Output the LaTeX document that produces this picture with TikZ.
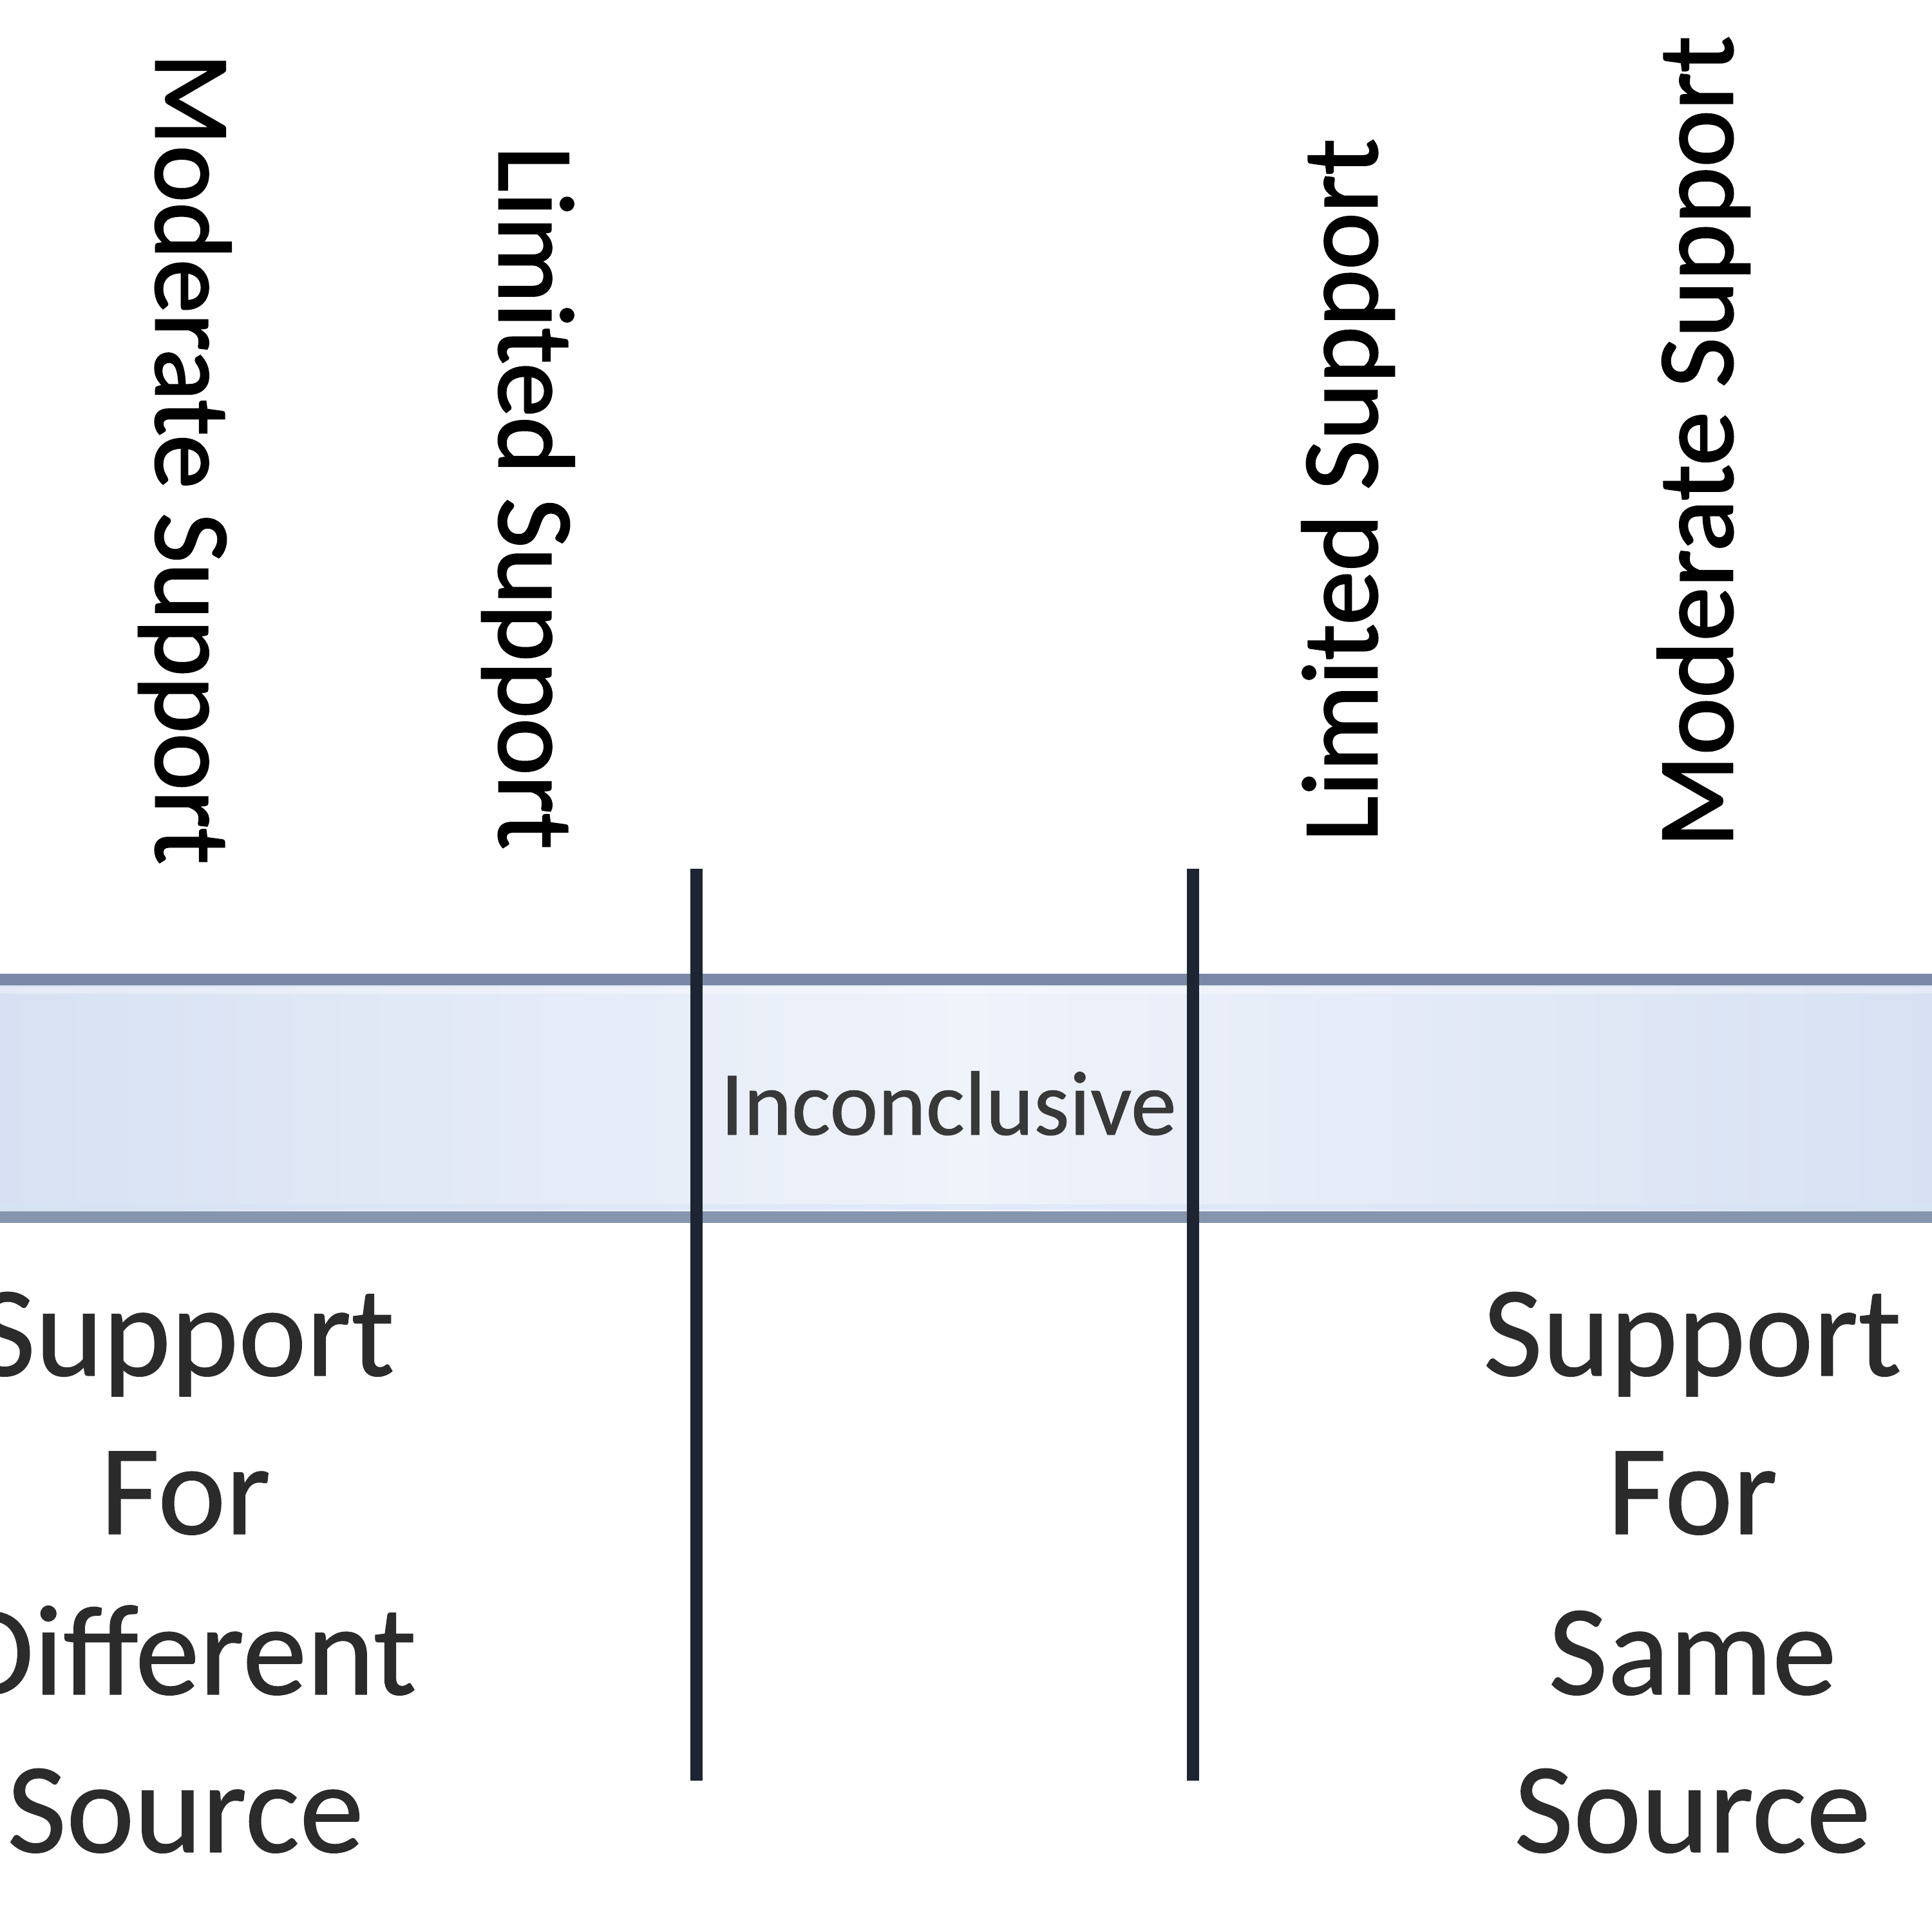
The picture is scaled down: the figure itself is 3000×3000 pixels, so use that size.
\documentclass[tikz,border=0pt]{standalone}
\usepackage{fontspec}
\setmainfont{Carlito}
\newfontfamily\vfont[FakeBold=1.6]{Carlito}
\newfontfamily\bfontx[FakeBold=0.6]{Carlito}
\definecolor{bandblue}{HTML}{BFCFEC}
\definecolor{bandwhite}{HTML}{EFF3FA}
\definecolor{bandedge}{HTML}{7B88A5}
\definecolor{bandedgeb}{HTML}{8595AE}
\definecolor{linecol}{HTML}{1C2531}
\definecolor{graytext}{HTML}{2B2B2B}
\definecolor{inctext}{HTML}{383838}
\pgfdeclarehorizontalshading{bandshade}{100bp}{color(0bp)=(bandblue); color(50bp)=(bandwhite); color(100bp)=(bandblue)}
\begin{document}
\begin{tikzpicture}[x=0.01cm,y=-0.01cm,
  vtxt/.style={inner sep=0pt,outer sep=0pt,text=black,font=\vfont\fontsize{47.8pt}{57pt}\selectfont},
  btxt/.style={inner sep=0pt,outer sep=0pt,text=graytext,anchor=base,font=\bfontx\fontsize{56.9pt}{70pt}\selectfont},
  vline/.style={draw=linecol,line width=5.4pt},
  bandborder/.style={line width=5.3pt}
]
\useasboundingbox (0,0) rectangle (3000,3000);
\fill[white] (0,0) rectangle (3000,3000);
\clip (0,0) rectangle (3000,3000);
% band
\path[shading=bandshade] (-10,1521) rectangle (3010,1890);
\draw[white,opacity=0.35,line width=3pt] (-10,1538) -- (3010,1538);
\draw[color={rgb,255:red,214;green,228;blue,247},opacity=0.6,line width=2.5pt] (-10,1874) -- (3010,1874);
\draw[bandborder,bandedge] (-10,1521) -- (3010,1521);
\draw[bandborder,bandedgeb] (-10,1890) -- (3010,1890);
% vertical lines
\coordinate (v1t) at (1081,1349);
\coordinate (v1b) at (1081,2765);
\coordinate (v2t) at (1852,1349);
\coordinate (v2b) at (1852,2765);
\draw[vline] (v1t) -- (v1b);
\draw[vline] (v2t) -- (v2b);
% rotated labels
\node[vtxt,rotate=-90,anchor=base west] (lmod) at (242,82) {Moderate Support};
\node[vtxt,rotate=-90,anchor=base west] (llim) at (775,227) {Limited Support};
\node[vtxt,rotate=90,anchor=base west] (rlim) at (2138,1307) {Limited Support};
\node[vtxt,rotate=90,anchor=base west] (rmod) at (2690,1316) {Moderate Support};
% inconclusive
\node[inner sep=0pt,text=inctext,anchor=base,font=\bfontx\fontsize{40.4pt}{48pt}\selectfont] (inc) at (1473,1762) {Inconclusive};
% bottom texts
\node[btxt] (ls1) at (288,2136) {Support};
\node[btxt] (ls2) at (288,2382) {For};
\node[btxt] (ls3) at (288,2631) {Different};
\node[btxt] (ls4) at (288,2876) {Source};
\node[btxt] (rs1) at (2628,2136) {Support};
\node[btxt] (rs2) at (2628,2382) {For};
\node[btxt] (rs3) at (2628,2631) {Same};
\node[btxt] (rs4) at (2628,2876) {Source};
\end{tikzpicture}
\end{document}
